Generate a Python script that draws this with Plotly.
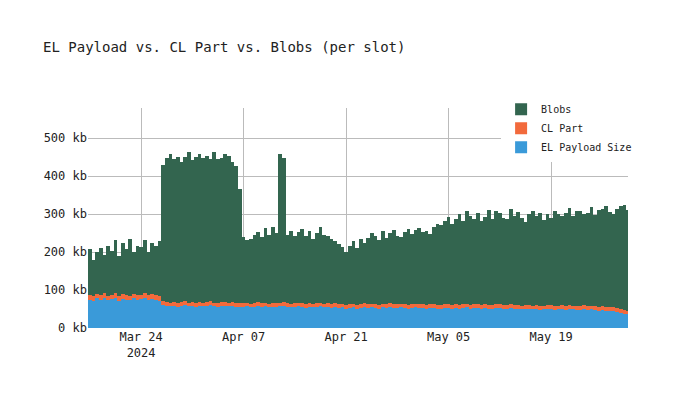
import plotly.graph_objects as go
import pandas as pd

blobs = [120,95,110,125,100,130,115,140,105,135,120,150,110,130,125,140,115,135,130,145,
 360,380,390,375,385,370,380,395,375,385,390,380,385,375,395,380,380,390,385,370,360,300,
 175,165,170,180,185,175,195,180,200,185,390,380,180,190,175,185,195,180,190,170,185,200,180,175,170,165,160,150,
 140,155,165,150,170,160,175,185,180,170,190,175,185,195,180,175,190,200,185,195,200,190,195,185,205,215,210,220,
 230,215,225,240,220,245,235,225,240,220,230,250,225,245,240,230,225,250,235,245,230,220,240,250,235,245,225,240,
 230,250,240,235,245,255,235,250,250,240,245,260,240,255,255,265,250,245,260,270,275,265]
el = [75,72,78,74,80,73,76,79,72,77,75,74,78,73,76,80,74,77,75,72,
 60,58,57,59,56,58,60,57,58,56,59,57,58,60,57,56,58,59,57,58,56,55,
 55,57,54,56,58,55,57,54,56,55,57,58,55,54,56,57,55,53,56,54,55,57,54,56,53,55,52,54,
 50,52,54,51,53,55,52,54,53,51,54,52,55,53,52,54,53,51,52,54,53,52,51,53,52,50,51,52,
 52,50,53,51,52,54,50,52,53,51,52,50,51,53,52,50,51,52,50,51,49,50,51,49,50,48,49,50,
 50,48,49,51,48,50,49,47,48,50,47,49,48,46,47,45,46,44,42,40,38,36]
cl = [12,13,11,12,13,12,11,13,12,12,13,11,12,13,12,11,12,13,12,12]+[10]*128

x = pd.date_range("2024-03-17", periods=len(blobs), freq="12h")

fig = go.Figure()
fig.add_bar(x=x, y=el, name="EL Payload Size", marker=dict(color="#3a9ad9", line_width=0))
fig.add_bar(x=x, y=cl, name="CL Part", marker=dict(color="#f26a3c", line_width=0))
fig.add_bar(x=x, y=blobs, name="Blobs", marker=dict(color="#33654f", line_width=0))

fig.update_layout(
    width=700, height=400, barmode="stack", bargap=0,
    font=dict(family="DejaVu Sans Mono", size=12, color="#222"),
    title=dict(text="EL Payload vs. CL Part vs. Blobs (per slot)", x=0.05, y=0.915, font=dict(size=14)),
    plot_bgcolor="white", paper_bgcolor="white",
    margin=dict(l=80, r=80, t=100, b=80, pad=0),
    legend=dict(x=0.765, y=1.06, xanchor="left", yanchor="top", bgcolor="white", font=dict(size=10)),
    xaxis=dict(showgrid=True, gridcolor="#bbb", tickformat="%b %d\n%Y", dtick=14*86400000,
               tick0="2024-03-24", range=["2024-03-16T18:00", "2024-05-29T12:00"], ticks="", showline=False),
    yaxis=dict(showgrid=True, gridcolor="#bbb", ticksuffix=" kb", range=[0, 579], dtick=100, zeroline=False,
               automargin=False),
)
fig.update_xaxes(automargin=False)
fig.write_html("out.html")
